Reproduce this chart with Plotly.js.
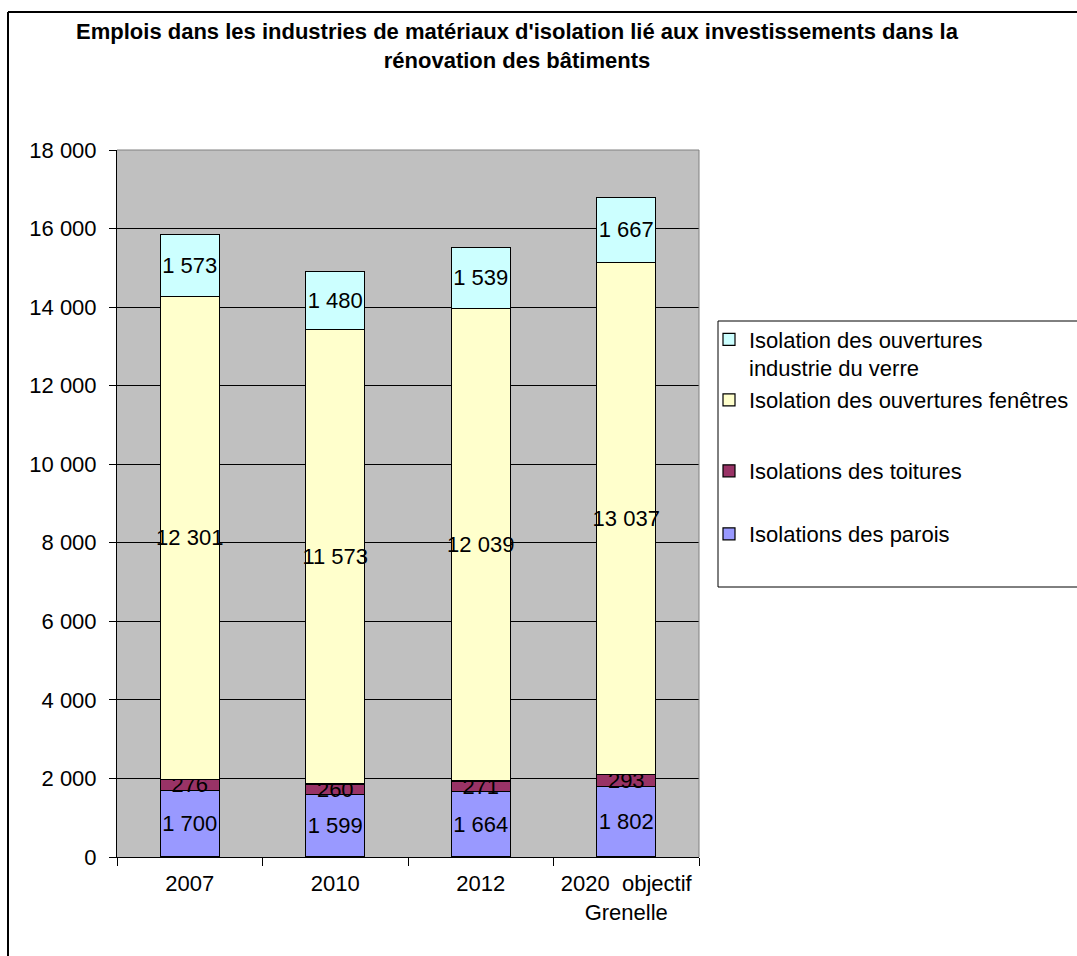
<!DOCTYPE html>
<html>
<head>
<meta charset="utf-8">
<script src="https://cdn.plot.ly/plotly-3.0.1.min.js"></script>
<style>html,body{margin:0;padding:0;background:#fff;}#chart{width:1077px;height:956px;}</style>
</head>
<body>
<div id="chart"></div>
<script>
const categories = ['2007', '2010', '2012', '2020  objectif<br>Grenelle'];
const parois = [1700, 1599, 1664, 1802];
const toitures = [276, 260, 271, 293];
const fenetres = [12301, 11573, 12039, 13037];
const verre = [1573, 1480, 1539, 1667];

const seriesNames = [
  'Isolations des parois',
  'Isolations des toitures',
  'Isolation des ouvertures fenêtres',
  'Isolation des ouvertures<br>industrie du verre'
];
const seriesColors = ['#9999FF', '#993366', '#FFFFCC', '#CCFFFF'];

const FONT = 'Liberation Sans, Arial, sans-serif';
function fmt(v) { return String(v).replace(/\B(?=(\d{3})+(?!\d))/g, ' '); }

// pixel -> paper helpers (plot area: x 117..699, y 150..857)
const L = 117, R = 699, T = 150, B = 857, W = 1077, H = 956;
const px = p => (p - L) / (R - L);
const py = p => (B - p) / (B - T);

const allSeries = [parois, toitures, fenetres, verre];
const legendIds = ['legend4', 'legend3', 'legend2', 'legend'];

const traces = allSeries.map((vals, i) => ({
  type: 'bar',
  name: seriesNames[i],
  x: categories,
  y: vals,
  text: vals.map(fmt),
  textposition: 'inside',
  insidetextanchor: 'middle',
  textangle: 0,
  constraintext: 'none',
  cliponaxis: false,
  textfont: {family: FONT, size: 22, color: '#000'},
  insidetextfont: {family: FONT, size: 22, color: '#000'},
  marker: {color: seriesColors[i], line: {color: '#000', width: 1.2}},
  legend: legendIds[i],
  showlegend: true,
  hoverinfo: 'x+y+name'
}));

function legendAt(yc, valign) {
  return {
    xref: 'container', yref: 'container',
    x: 709 / W, xanchor: 'left',
    y: 1 - yc / H, yanchor: 'middle',
    bgcolor: 'rgba(0,0,0,0)', borderwidth: 0,
    font: {family: FONT, size: 22, color: '#000'},
    valign: valign || 'middle',
    itemclick: false, itemdoubleclick: false
  };
}

const layout = {
  width: W, height: H,
  margin: {l: L, r: W - R, t: T, b: H - B, pad: 0},
  paper_bgcolor: '#fff',
  plot_bgcolor: '#C0C0C0',
  separators: ', ',
  barmode: 'stack',
  bargap: 0.595,
  showlegend: true,
  font: {family: FONT, size: 22, color: '#000'},
  title: {
    text: "<b>Emplois dans les industries de matériaux d'isolation lié aux investissements dans la<br>rénovation des bâtiments</b>",
    font: {family: FONT, size: 22, color: '#000'},
    xref: 'container', x: 517 / W, xanchor: 'center',
    yref: 'container', y: 1 - 39 / H, yanchor: 'top'
  },
  xaxis: {
    type: 'category',
    range: [-0.5, 3.5],
    tickson: 'boundaries',
    ticks: 'outside', ticklen: 8, tickcolor: '#000', tickwidth: 1,
    ticklabelstandoff: 7,
    showline: true, linecolor: '#000', linewidth: 1,
    showgrid: false, zeroline: false,
    tickfont: {family: FONT, size: 22, color: '#000'},
    fixedrange: true
  },
  yaxis: {
    range: [0, 18000], tick0: 0, dtick: 2000,
    tickformat: ',d',
    ticks: 'outside', ticklen: 7, tickcolor: '#000', tickwidth: 1,
    ticklabelstandoff: 8,
    showline: true, linecolor: '#000', linewidth: 1,
    showgrid: true, gridcolor: '#000', gridwidth: 1,
    zeroline: false,
    tickfont: {family: FONT, size: 22, color: '#000'},
    fixedrange: true
  },
  legend: legendAt(354, 'top'),
  legend2: legendAt(400),
  legend3: legendAt(471),
  legend4: legendAt(534),
  shapes: [
    // plot area top and right edges
    {type: 'line', xref: 'paper', yref: 'paper', x0: 0, x1: 1, y0: 1, y1: 1, line: {color: '#808080', width: 1}, layer: 'above'},
    {type: 'line', xref: 'paper', yref: 'paper', x0: 1, x1: 1, y0: 0, y1: 1, line: {color: '#808080', width: 1}, layer: 'above'},
    // legend box
    {type: 'rect', xref: 'paper', yref: 'paper', x0: px(718), x1: px(1095), y0: py(587), y1: py(321), line: {color: '#000', width: 1}, fillcolor: '#fff', layer: 'below'},
    // outer chart border (left and top)
    {type: 'line', xref: 'paper', yref: 'paper', x0: px(8), x1: px(8), y0: py(12), y1: py(970), line: {color: '#000', width: 2}, layer: 'above'},
    {type: 'line', xref: 'paper', yref: 'paper', x0: px(8), x1: px(1090), y0: py(12), y1: py(12), line: {color: '#000', width: 2}, layer: 'above'}
  ]
};

Plotly.newPlot('chart', traces, layout, {displayModeBar: false});
</script>
</body>
</html>
